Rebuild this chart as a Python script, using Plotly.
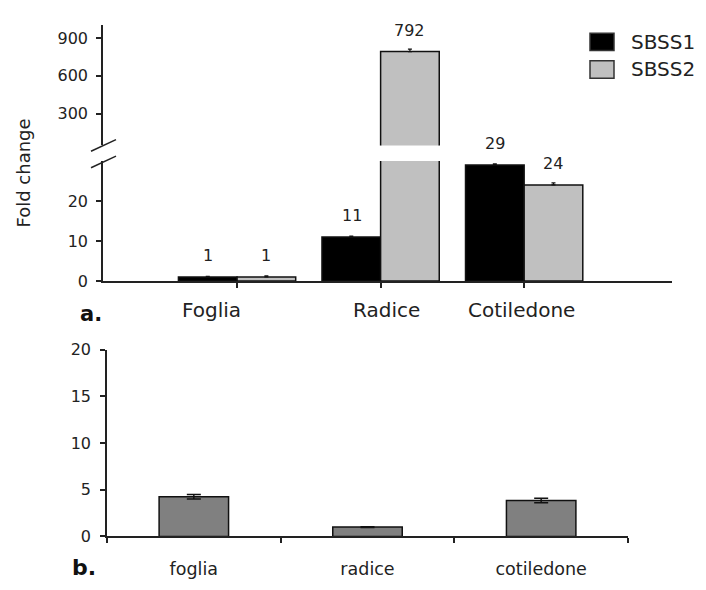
import plotly.graph_objects as go

W, H = 706, 590

# Panel a: fold change of the two synthases across organs
organs_a = ["Foglia", "Radice", "Cotiledone"]
series_names = ["SBSS1", "SBSS2"]
sbss1 = [1, 11, 29]
sbss2 = [1, 792, 24]
sbss1_err = [0.15, 0.2, 0.3]
sbss2_err = [0.3, 20, 0.5]
low_ticks = [0, 10, 20]
high_ticks = [300, 600, 900]

# Panel b: single gene fold change
organs_b = ["foglia", "radice", "cotiledone"]
fold_b = [4.25, 1.0, 3.85]
fold_b_err = [0.25, 0.05, 0.25]
b_ticks = [0, 5, 10, 15, 20]

FONT = "DejaVu Sans"
INK = "#222222"
colors = ["#000000", "#c0c0c0"]


def fx(p):
    return p / W


def fy(p):
    return 1 - p / H


fig = go.Figure()

# broken axis: each series drawn on the low (0-30) and the high segment
for name, vals, err, col in zip(series_names, [sbss1, sbss2], [sbss1_err, sbss2_err], colors):
    for xa, ya in (("x", "y"), ("x2", "y2")):
        fig.add_bar(
            x=organs_a, y=vals, name=name, xaxis=xa, yaxis=ya, showlegend=False,
            marker=dict(color=col, line=dict(color="#111111", width=1.5)),
            error_y=dict(type="data", array=err, arrayminus=[0] * len(err), symmetric=False,
                         color="#111111", thickness=1.2, width=2),
        )

fig.add_bar(
    x=organs_b, y=fold_b, xaxis="x3", yaxis="y3", showlegend=False, width=0.40,
    marker=dict(color="#808080", line=dict(color="#111111", width=1.5)),
    error_y=dict(type="data", array=fold_b_err, color="#111111", thickness=1.5, width=7),
)

axis_common = dict(showgrid=False, zeroline=False, showline=True, linecolor=INK, linewidth=1.5,
                   ticks="outside", ticklen=5, tickcolor=INK, tickwidth=1.5,
                   tickfont=dict(family=FONT, size=16, color=INK))

fig.update_layout(
    width=W, height=H, margin=dict(l=0, r=0, t=0, b=0),
    paper_bgcolor="white", plot_bgcolor="white",
    barmode="group", bargap=0.183, bargroupgap=0,
    font=dict(family=FONT, color=INK),
    xaxis=dict(axis_common, domain=[fx(103), fx(672)], range=[-0.934, 3.03], anchor="y",
               type="category", showticklabels=False),
    xaxis2=dict(domain=[fx(103), fx(672)], range=[-0.934, 3.03], anchor="y2",
                type="category", matches="x", visible=False),
    yaxis=dict(axis_common, domain=[fy(281), fy(157)], range=[0, 30], anchor="x",
               tickvals=low_ticks, ticklabelstandoff=5),
    yaxis2=dict(axis_common, domain=[fy(141), fy(17)], range=[46, 1000], anchor="x2",
                tickvals=high_ticks, ticklabelstandoff=5),
    xaxis3=dict(axis_common, domain=[fx(107), fx(628)], range=[-0.5, 2.5], anchor="y3",
                type="category", tickson="boundaries", ticklabelstandoff=16,
                tickfont=dict(family=FONT, size=17.5, color=INK)),
    yaxis3=dict(axis_common, domain=[fy(545), fy(352)], range=[0, 20], anchor="x3",
                tickvals=b_ticks, ticklabelstandoff=6),
)

ann = []
# value labels above the panel-a bars
for vals, off in ((sbss1, -0.2), (sbss2, 0.2)):
    for i, v in enumerate(vals):
        yref = "y2" if v > 30 else "y"
        ann.append(dict(x=i + off, y=v, xref="x", yref=yref, text=str(v), showarrow=False,
                        yanchor="middle", yshift=21, font=dict(family=FONT, size=16, color=INK)))

# category names under panel a
for name, shift in zip(organs_a, [-26, 6, -3]):
    ann.append(dict(x=name, y=fy(311), xref="x", yref="paper", text=name, showarrow=False,
                    xshift=shift, yanchor="middle", font=dict(family=FONT, size=20, color=INK)))

ann.append(dict(x=fx(24), y=fy(170), xref="paper", yref="paper", text="Fold change",
                textangle=-90, xanchor="center", yanchor="middle", showarrow=False,
                font=dict(family=FONT, size=18, color=INK)))
ann.append(dict(x=fx(91), y=fy(315), xref="paper", yref="paper", text="<b>a.</b>",
                xanchor="center", yanchor="middle",
                showarrow=False, font=dict(family=FONT, size=21, color="#111111")))
ann.append(dict(x=fx(84), y=fy(577), xref="paper", yref="paper", text="<b>b.</b>",
                xanchor="center", yanchor="middle",
                showarrow=False, font=dict(family=FONT, size=22, color="#111111")))

shapes = []
# legend swatches
for k, (name, col) in enumerate(zip(series_names, colors)):
    y0, y1 = 25 + 28.5 * k, 43 + 28.5 * k
    shapes.append(dict(type="rect", xref="paper", yref="paper", x0=fx(590), x1=fx(614),
                       y0=fy(y1), y1=fy(y0), fillcolor=col, line=dict(color="#333333", width=1.5)))
    ann.append(dict(x=fx(629), y=fy((y0 + y1) / 2), xref="paper", yref="paper", text=name,
                    xanchor="left", yanchor="middle", showarrow=False,
                    font=dict(family=FONT, size=20, color=INK)))

# axis break marks
for yc in (141, 158):
    shapes.append(dict(type="line", xref="paper", yref="paper", x0=fx(91), x1=fx(116),
                       y0=fy(yc + 6), y1=fy(yc - 6), line=dict(color=INK, width=1.5)))

fig.update_layout(annotations=ann, shapes=shapes)
fig.write_html("out.html")
